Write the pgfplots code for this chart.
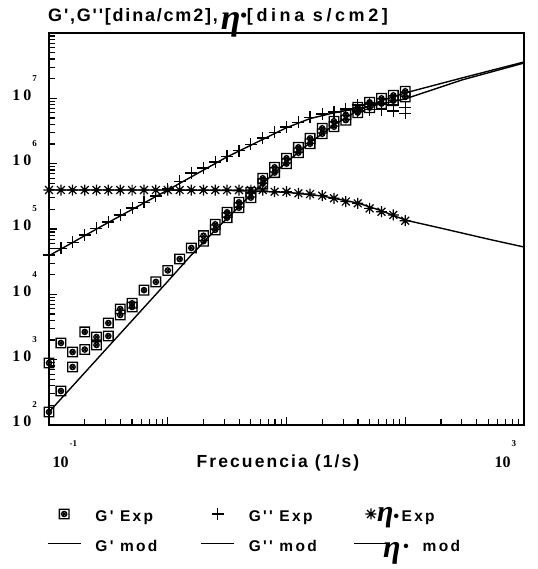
\documentclass[border=0pt]{standalone}
\usepackage{fontspec}
\usepackage{pgfplots}
\usepackage{pgfplotstable}
\pgfplotsset{compat=1.18}
\newfontfamily\ttlfont{Liberation Sans}[LetterSpace=10]
\newfontfamily\ttlwide{Liberation Sans}[LetterSpace=20]
\newfontfamily\labfont{Liberation Sans}[LetterSpace=12]
\newfontfamily\legfont{Liberation Sans}[LetterSpace=15]
\newfontfamily\numfont{Liberation Serif}
\newfontfamily\grkfont{Liberation Serif}

\newcommand\etaglyph[1]{{\grkfont\bfseries\itshape\fontsize{#1}{#1}\selectfont η}}
\newcommand\yl[1]{{\numfont\bfseries\fontsize{16bp}{16bp}\selectfont 1\kern3bp0\kern1bp\raisebox{19bp}{\fontsize{9bp}{9bp}\selectfont #1}}}
\newcommand\xl[1]{{\numfont\bfseries\fontsize{16bp}{16bp}\selectfont 10\kern1bp\raisebox{21bp}{\fontsize{9bp}{9bp}\selectfont #1}}}
\newcommand\lt[1]{\makebox[70bp][l]{\rule[-12bp]{0pt}{30bp}#1}}

% square with a crossed circle inside
\pgfdeclareplotmark{boxo}{%
  \pgfpathrectangle{\pgfpoint{-\pgfplotmarksize}{-\pgfplotmarksize}}{\pgfpoint{2\pgfplotmarksize}{2\pgfplotmarksize}}%
  \pgfpathcircle{\pgfpointorigin}{0.55\pgfplotmarksize}%
  \pgfpathmoveto{\pgfpoint{-0.38\pgfplotmarksize}{-0.38\pgfplotmarksize}}\pgfpathlineto{\pgfpoint{0.38\pgfplotmarksize}{0.38\pgfplotmarksize}}%
  \pgfpathmoveto{\pgfpoint{-0.38\pgfplotmarksize}{0.38\pgfplotmarksize}}\pgfpathlineto{\pgfpoint{0.38\pgfplotmarksize}{-0.38\pgfplotmarksize}}%
  \pgfusepathqstroke}
% eight-armed asterisk
\pgfdeclareplotmark{ast8}{%
  \pgfpathmoveto{\pgfpoint{-\pgfplotmarksize}{0pt}}\pgfpathlineto{\pgfpoint{\pgfplotmarksize}{0pt}}%
  \pgfpathmoveto{\pgfpoint{0pt}{-\pgfplotmarksize}}\pgfpathlineto{\pgfpoint{0pt}{\pgfplotmarksize}}%
  \pgfpathmoveto{\pgfpoint{-0.71\pgfplotmarksize}{-0.71\pgfplotmarksize}}\pgfpathlineto{\pgfpoint{0.71\pgfplotmarksize}{0.71\pgfplotmarksize}}%
  \pgfpathmoveto{\pgfpoint{-0.71\pgfplotmarksize}{0.71\pgfplotmarksize}}\pgfpathlineto{\pgfpoint{0.71\pgfplotmarksize}{-0.71\pgfplotmarksize}}%
  \pgfusepathqstroke}

% G' experimental (two runs)
\pgfplotstableread{
x y
0.1 158
0.1 890
0.126 331
0.126 1800
0.158 773
0.158 1310
0.2 1430
0.2 2660
0.251 1680
0.251 2220
0.316 2300
0.316 3640
0.398 5970
0.398 4830
0.501 7300
0.501 6400
0.631 11600
0.794 15500
1 23200
1.26 34700
1.58 51200
2 79000
2 65000
2.51 118000
2.51 97000
3.16 180000
3.16 149000
3.98 256000
3.98 212000
5.01 365000
5.01 302000
6.31 597000
6.31 494000
7.94 880000
7.94 730000
10 1210000
10 1000000
12.6 1780000
12.6 1470000
15.8 2440000
15.8 2020000
20 3480000
20 2870000
25.1 4460000
25.1 3680000
31.6 5600000
31.6 4630000
39.8 7300000
39.8 6040000
50.1 8700000
50.1 7200000
63.1 10000000
63.1 8300000
79.4 11100000
79.4 9200000
100 12800000
100 10500000
}\gpexp

% G'' experimental
\pgfplotstableread{
x y
0.1 40000
0.126 51000
0.158 63000
0.2 81000
0.251 103000
0.316 128000
0.398 164000
0.501 210000
0.631 255000
0.794 320000
1 410000
1.26 540000
1.58 720000
2 860000
2.51 1060000
3.16 1290000
3.98 1590000
5.01 1970000
6.31 2470000
7.94 3000000
10 3640000
12.6 4270000
15.8 5090000
20 5760000
25.1 6180000
31.6 6870000
39.8 7900000
39.8 6400000
50.1 8200000
50.1 6700000
63.1 8200000
63.1 6700000
79.4 7900000
79.4 6400000
100 7300000
100 5900000
}\gppexp

% eta* experimental
\pgfplotstableread{
x y
0.1 395000
0.126 395000
0.158 395000
0.2 395000
0.251 395000
0.316 395000
0.398 395000
0.501 395000
0.631 395000
0.794 395000
1 395000
1.26 395000
1.58 395000
2 395000
2.51 395000
3.16 395000
3.98 395000
5.01 395000
6.31 395000
7.94 372000
10 372000
12.6 352000
15.8 343000
20 324000
25.1 295000
31.6 263000
39.8 247000
50.1 207000
63.1 184000
79.4 164000
100 134000
}\etaexp

% model curves
\pgfplotstableread{
x y
0.1 158
0.316 1580
1 15800
1.58 40000
2.51 96000
3.98 220000
6.31 500000
10 1050000
15.8 2100000
25.1 3900000
39.8 6500000
63.1 9200000
100 12100000
300 20500000
1000 36000000
}\gpmod

\pgfplotstableread{
x y
0.1 39000
0.316 126000
1 395000
3.16 1270000
10 3550000
15.8 4900000
25.1 6000000
39.8 7000000
63.1 8200000
100 9800000
300 19100000
1000 34700000
}\gppmod

\pgfplotstableread{
x y
0.1 395000
1 395000
3.16 390000
10 365000
20 320000
39.8 250000
63.1 190000
100 137000
200 103000
500 70000
1000 53000
}\etamod

\begin{document}
\begin{tikzpicture}
\useasboundingbox (-49bp,-144bp) rectangle (489bp,425bp);
\begin{axis}[
  at={(0,0)}, anchor=south west,
  scale only axis, width=475bp, height=392bp,
  xmode=log, ymode=log,
  xmin=0.1, xmax=1000, ymin=1e2, ymax=1e8,
  clip=false,
  axis line style={line width=1.8bp},
  tick style={black, line width=1.1bp},
  major tick length=8bp, minor tick length=6bp,
  tick align=inside,
  xtick pos=left, ytick pos=left,
  xtick={0.1,1,10,100},
  xticklabels={\xl{-1},{},{},{}},
  extra x ticks={1000},
  extra x tick labels={\xl{3}},
  extra x tick style={xticklabel style={xshift=-34.5bp}},
  xticklabel style={anchor=base, yshift=-42bp, xshift=16bp, inner sep=0pt},
  minor xtick={0.2,0.3,0.4,0.5,0.6,0.7,0.8,0.9,2,3,4,5,6,7,8,9,20,30,40,50,60,70,80,90,200,300,400,500,600,700,800,900},
  ytick={1e2,1e3,1e4,1e5,1e6,1e7,1e8},
  yticklabels={\yl{2},\yl{3},\yl{4},\yl{5},\yl{6},\yl{7},{}},
  yticklabel style={anchor=base east, xshift=-12bp, yshift=-2bp, inner sep=0pt},
  minor ytick={2e2,3e2,4e2,5e2,6e2,7e2,8e2,9e2,2e3,3e3,4e3,5e3,6e3,7e3,8e3,9e3,2e4,3e4,4e4,5e4,6e4,7e4,8e4,9e4,2e5,3e5,4e5,5e5,6e5,7e5,8e5,9e5,2e6,3e6,4e6,5e6,6e6,7e6,8e6,9e6,2e7,3e7,4e7,5e7,6e7,7e7,8e7,9e7},
  xlabel={\labfont\bfseries\fontsize{17.5bp}{17.5bp}\selectfont Frecuencia (1/s)},
  xlabel style={at={(rel axis cs:0.482,0)}, anchor=base, yshift=-42bp, inner sep=0pt},
  title={\ttlfont\bfseries\fontsize{18bp}{18bp}\selectfont G',G''[dina/cm2],\hspace{3bp}\raisebox{-8bp}{\etaglyph{36bp}}•{\ttlwide\bfseries[dina s/cm2]}},
  title style={at={(rel axis cs:0,1)}, anchor=base west, yshift=6bp, xshift=-1bp, inner sep=0pt},
  legend columns=3,
  legend style={at={(rel axis cs:0,0)}, anchor=north west, xshift=-2bp, yshift=-77bp,
    draw=none, fill=none, inner sep=0pt, outer sep=0pt, row sep=6bp,
    font=\legfont\bfseries\fontsize{15.5bp}{15.5bp}\selectfont,
    cells={anchor=base west},
    /tikz/every odd column/.append style={column sep=12bp},
    /tikz/every even column/.append style={column sep=33bp}},
  legend image code/.code={\draw[mark repeat=2,mark phase=2,#1] plot coordinates {(0bp,8bp) (16.5bp,8bp) (33bp,8bp)};},
]
\addplot[black, only marks, mark=boxo, mark size=4.8bp, line width=1.3bp] table {\gpexp};
\addplot[black, only marks, mark=+, mark size=6bp, line width=1.2bp] table {\gppexp};
\addplot[black, only marks, mark=ast8, mark size=5.5bp, line width=1.2bp] table {\etaexp};
\addplot[black, line width=1.4bp] table {\gpmod};
\addplot[black, line width=1.4bp] table {\gppmod};
\addplot[black, line width=1.4bp] table {\etamod};
\legend{\lt{G' Exp},\lt{G'' Exp},\lt{\hspace*{-25bp}\etaglyph{30bp}•\,Exp},\lt{G' mod},\lt{G'' mod},\lt{\hspace*{-19bp}\raisebox{-6bp}{\etaglyph{32bp}}\,•\hspace{14bp}mod}}
\end{axis}
\end{tikzpicture}
\end{document}
